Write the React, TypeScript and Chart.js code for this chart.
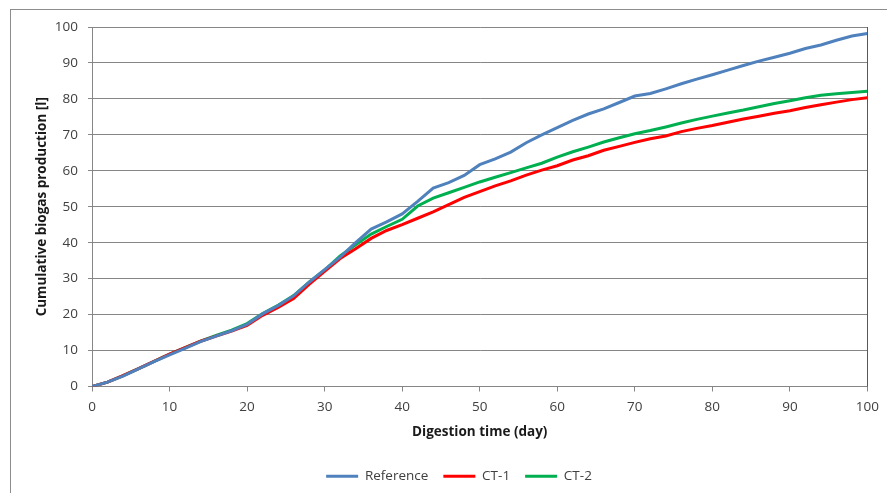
import { useEffect, useRef } from "react";
import { Chart, registerables } from "chart.js";

Chart.register(...registerables);

// Digestion time in days (sampled every 2 days)
const days = [
  0, 2, 4, 6, 8, 10, 12, 14, 16, 18, 20, 22, 24, 26, 28, 30, 32, 34, 36, 38, 40,
  42, 44, 46, 48, 50, 52, 54, 56, 58, 60, 62, 64, 66, 68, 70, 72, 74, 76, 78, 80,
  82, 84, 86, 88, 90, 92, 94, 96, 98, 100,
];

// Cumulative biogas production [l]
const referenceValues = [
  0, 1.2, 2.9, 4.9, 6.9, 8.8, 10.6, 12.5, 14, 15.5, 17.3, 20.2, 22.5, 25.2, 29,
  32.5, 36, 40, 43.8, 45.8, 48, 51.5, 55.2, 56.7, 58.7, 61.7, 63.3, 65.2, 67.8,
  70, 72, 74, 75.8, 77.2, 79, 80.8, 81.5, 82.8, 84.2, 85.5, 86.7, 88, 89.3, 90.5,
  91.6, 92.7, 94, 95, 96.3, 97.5, 98.2,
];

const ct1Values = [
  0, 1.2, 3, 5, 7, 9, 10.8, 12.6, 14, 15.4, 17, 19.8, 22, 24.5, 28.4, 32, 35.6,
  38.3, 41.2, 43.4, 45, 46.8, 48.6, 50.6, 52.6, 54.2, 55.8, 57.2, 58.8, 60.2,
  61.4, 63, 64.2, 65.7, 66.8, 67.9, 68.9, 69.7, 70.9, 71.8, 72.6, 73.5, 74.4,
  75.2, 76, 76.7, 77.6, 78.4, 79.1, 79.8, 80.3,
];

const ct2Values = [
  0, 1.2, 3, 5, 7, 9, 10.8, 12.6, 14.2, 15.7, 17.5, 20.3, 22.6, 25.3, 29, 32.4,
  36.3, 39.4, 42.4, 44.5, 46.5, 50.2, 52.4, 53.9, 55.4, 56.9, 58.2, 59.5, 60.8,
  62.1, 63.8, 65.3, 66.6, 68, 69.2, 70.3, 71.2, 72.2, 73.3, 74.3, 75.2, 76.1,
  76.9, 77.8, 78.7, 79.5, 80.3, 81, 81.4, 81.8, 82.1,
];

const xTickValues = [0, 10, 20, 30, 40, 50, 60, 70, 80, 90, 100];
const yTickValues = [0, 10, 20, 30, 40, 50, 60, 70, 80, 90, 100];

const seriesNames = ["Reference", "CT-1", "CT-2"];
const seriesColors = ["#4F81BD", "#FF0000", "#00B050"];

const FONT_FAMILY = "'Open Sans', sans-serif";
const TEXT_COLOR = "#404040";
const GRID_COLOR = "#868686";

// Outer frame of the chart object and the dark right edge of the plot area
const framePlugin = {
  id: "frame",
  beforeDraw(chart: any) {
    const ctx = chart.ctx;
    ctx.save();
    ctx.fillStyle = "#ffffff";
    ctx.fillRect(0, 0, chart.width, chart.height);
    ctx.strokeStyle = "#8c8c8c";
    ctx.lineWidth = 1;
    ctx.strokeRect(10.5, 9.5, chart.width + 50, chart.height + 50);
    ctx.restore();
  },
  afterDatasetsDraw(chart: any) {
    const { ctx, chartArea } = chart;
    ctx.save();
    ctx.strokeStyle = "#595959";
    ctx.lineWidth = 1;
    ctx.beginPath();
    const x = Math.round(chartArea.right) + 0.5;
    ctx.moveTo(x, chartArea.top);
    ctx.lineTo(x, chartArea.bottom);
    ctx.stroke();
    ctx.restore();
  },
};

// Nudge the legend block into place below the axis title
const LEGEND_DX = 10;
const LEGEND_DY = 0;
const legendOffsetPlugin = {
  id: "legendOffset",
  afterLayout(chart: any) {
    const lg = chart.legend;
    if (!lg) return;
    lg.left += LEGEND_DX;
    lg.right += LEGEND_DX;
    lg.top += LEGEND_DY;
    lg.bottom += LEGEND_DY;
  },
};

export default function App() {
  const canvasRef = useRef<HTMLCanvasElement | null>(null);

  useEffect(() => {
    const canvas = canvasRef.current;
    if (!canvas) return;

    const seriesValues = [referenceValues, ct1Values, ct2Values];
    const datasets = seriesNames.map((name, i) => ({
      label: name,
      data: days.map((d, j) => ({ x: d, y: seriesValues[i][j] })),
      borderColor: seriesColors[i],
      backgroundColor: seriesColors[i],
      borderWidth: 3,
      pointRadius: 0,
      tension: 0,
      fill: false,
    }));

    const chart = new Chart(canvas, {
      type: "line",
      data: { datasets },
      plugins: [framePlugin, legendOffsetPlugin],
      options: {
        animation: false,
        responsive: false,
        devicePixelRatio: 1,
        layout: { padding: { left: 30, right: 19, top: 27, bottom: 0 } },
        plugins: {
          tooltip: { enabled: false },
          legend: {
            position: "bottom",
            labels: {
              boxWidth: 32,
              boxHeight: 3,
              padding: 15,
              color: TEXT_COLOR,
              font: { family: FONT_FAMILY, size: 13.5 },
              generateLabels(chart: any) {
                return chart.data.datasets.map((ds: any, i: number) => ({
                  text: ds.label,
                  fillStyle: ds.borderColor,
                  strokeStyle: ds.borderColor,
                  lineWidth: 0,
                  hidden: false,
                  datasetIndex: i,
                  fontColor: TEXT_COLOR,
                }));
              },
            },
          },
        },
        scales: {
          x: {
            type: "linear",
            min: 0,
            max: 100,
            afterBuildTicks(scale: any) {
              scale.ticks = xTickValues.map((v) => ({ value: v }));
            },
            afterFit(scale: any) {
              scale.height = 68;
            },
            grid: {
              display: true,
              drawOnChartArea: false,
              drawTicks: true,
              tickLength: 5,
              color: GRID_COLOR,
            },
            border: { display: true, color: GRID_COLOR },
            ticks: {
              color: TEXT_COLOR,
              font: { family: FONT_FAMILY, size: 13.5 },
              padding: 8,
              maxRotation: 0,
            },
            title: {
              display: true,
              text: "Digestion time (day)",
              color: "#1a1a1a",
              font: { family: FONT_FAMILY, size: 13.5, weight: "bold" },
              padding: { top: 4, bottom: 14 },
            },
          },
          y: {
            type: "linear",
            min: 0,
            max: 100,
            afterBuildTicks(scale: any) {
              scale.ticks = yTickValues.map((v) => ({ value: v }));
            },
            afterFit(scale: any) {
              scale.width = 62;
            },
            grid: {
              display: true,
              drawTicks: true,
              tickLength: 4,
              color: GRID_COLOR,
            },
            border: { display: true, color: GRID_COLOR },
            ticks: {
              color: TEXT_COLOR,
              font: { family: FONT_FAMILY, size: 13.5 },
              padding: 10,
            },
            title: {
              display: true,
              text: "Cumulative biogas production [l]",
              color: "#1a1a1a",
              font: { family: FONT_FAMILY, size: 13.5, weight: "bold" },
              padding: { top: 4, bottom: 4 },
            },
          },
        },
      },
    } as any);

    return () => chart.destroy();
  }, []);

  return (
    <div
      style={{
        position: "fixed",
        left: 0,
        top: 0,
        width: 887,
        height: 493,
        overflow: "hidden",
        background: "#ffffff",
      }}
    >
      <canvas
        ref={canvasRef}
        width={887}
        height={493}
        style={{ display: "block", width: 887, height: 493 }}
      />
    </div>
  );
}
